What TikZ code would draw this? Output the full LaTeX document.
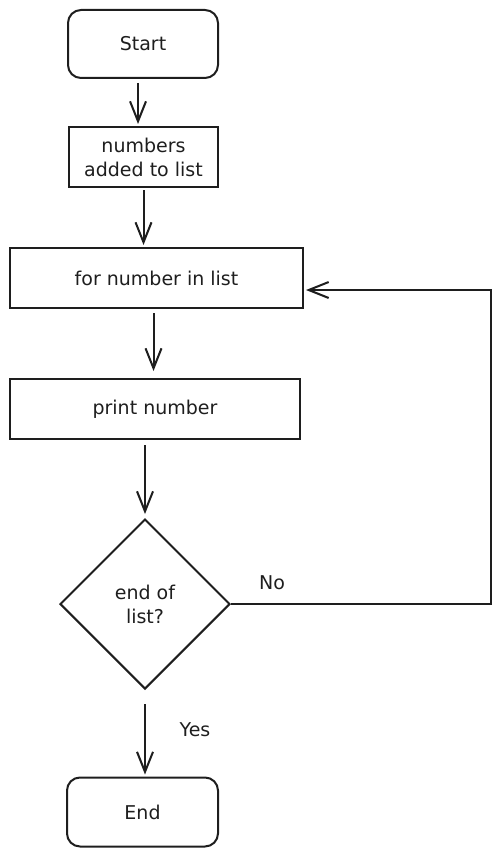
\documentclass[tikz,border=0pt]{standalone}
\usepackage{fontspec}
\setmainfont{DejaVu Sans}
\usetikzlibrary{shapes.geometric,arrows.meta}
\definecolor{ink}{HTML}{1E1E1E}
\tikzset{
  block/.style={draw=ink,line width=2pt,text=ink,align=center,inner sep=0pt},
  term/.style={block,rounded corners=13pt,minimum width=150pt,minimum height=68pt},
  proc/.style={block,minimum height=60pt},
  dec/.style={block,shape=diamond,minimum width=170pt,minimum height=170pt},
  lbl/.style={text=ink},
  flow/.style={draw=ink,line width=2pt,-{Straight Barb[length=20pt,width=16pt,line width=2pt]}}
}
\begin{document}
\begin{tikzpicture}[x=1pt,y=-1pt,font=\fontsize{19}{24}\selectfont]
  \useasboundingbox (0,0) rectangle (501,856);
  \draw
    (143,44) node[term] (start){Start}
    (143.5,157) node[proc,minimum width=149pt] (added){numbers\\added to list}
    (156.5,278) node[proc,minimum width=293pt] (loop){for number in list}
    (155,409) node[proc,minimum width=290pt] (print){print number}
    (145,604) node[dec] (check){end of\\list?}
    (142.5,812) node[term,minimum width=151pt,minimum height=69pt] (stop){End}
    (272,583) node[lbl] (no){No}
    (195,730) node[lbl] (yes){Yes};
  \coordinate (back1) at (491,604);
  \coordinate (back2) at (491,290);
  \begin{scope}[flow]
    \draw[shorten <=4pt,shorten >=2pt] ([xshift=-5pt]start.south) to ([xshift=-5pt]start.south |- added.north);
    \draw[shorten <=2pt,shorten >=2pt] (added.south) to (added.south |- loop.north);
    \draw[shorten <=4pt,shorten >=7pt] ([xshift=-3pt]loop.south) to ([xshift=-3pt]loop.south |- print.north);
    \draw[shorten <=5pt,shorten >=4pt] (print.south -| check.north) to (check.north);
    \draw[shorten <=14pt,shorten >=2pt] (check.south) to (check.south |- stop.north);
    \draw[shorten >=2pt] (check.east) -- (back1) -- (back2) -- (back2 -| loop.east);
  \end{scope}
\end{tikzpicture}
\end{document}
